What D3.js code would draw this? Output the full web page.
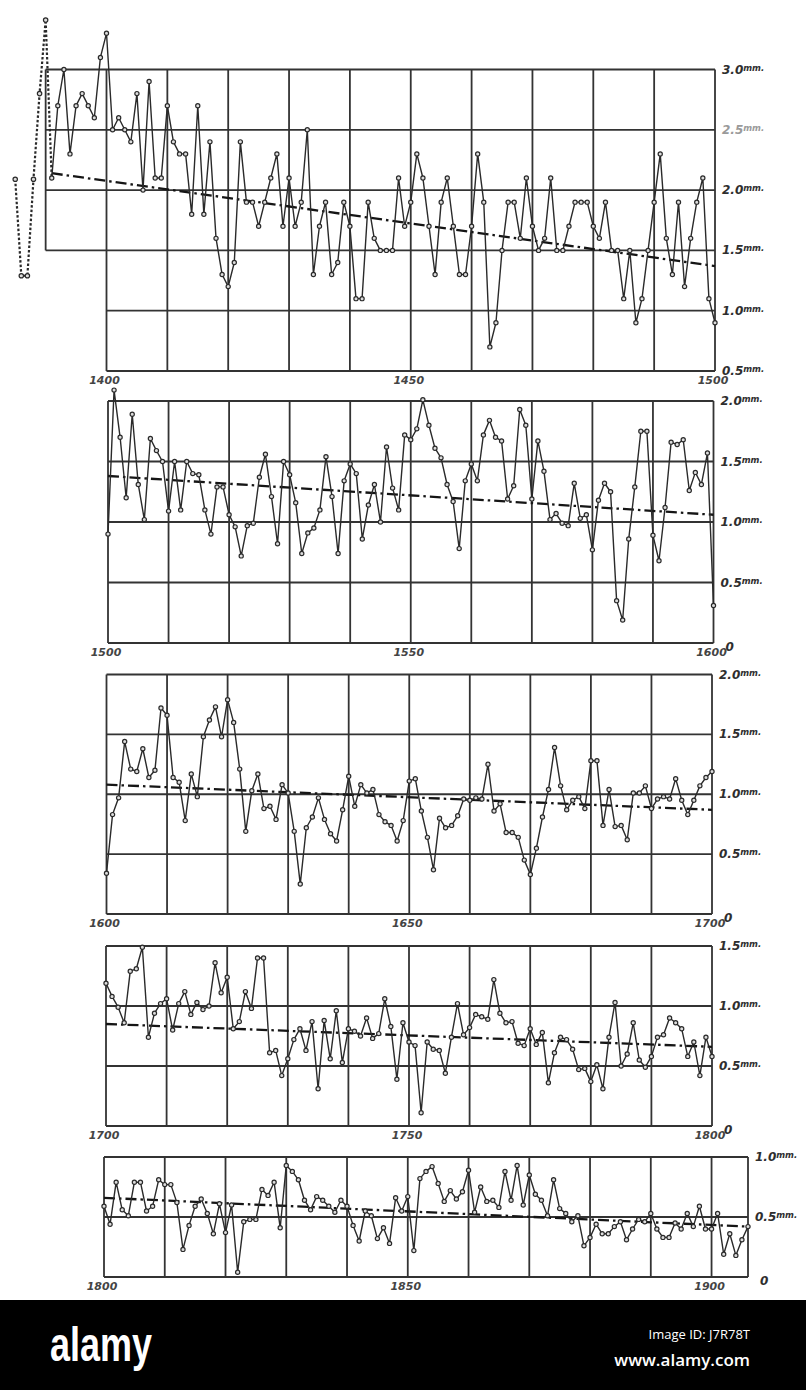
<!DOCTYPE html>
<html><head><meta charset="utf-8">
<script src="https://cdn.jsdelivr.net/npm/d3@7"></script>
<style>body{margin:0;background:#fff}svg{display:block}</style>
</head><body>
<script>
// ---------- DATA (ring widths, mm) ----------
const dottedStart = 1385;
const dotted1385_1391 = [2.09,1.29,1.29,2.09,2.80,3.41,2.10];

const start1 = 1391;
const ring1391_1500 = [2.10,2.70,3.00,2.30,2.70,2.80,2.70,2.60,3.10,3.30,
 2.50,2.60,2.50,2.40,2.80,2.00,2.90,2.10,2.10,2.70,
 2.40,2.30,2.30,1.80,2.70,1.80,2.40,1.60,1.30,1.20,
 1.40,2.40,1.90,1.90,1.70,1.90,2.10,2.30,1.70,2.10,
 1.70,1.90,2.50,1.30,1.70,1.90,1.30,1.40,1.90,1.70,
 1.10,1.10,1.90,1.60,1.50,1.50,1.50,2.10,1.70,1.90,
 2.30,2.10,1.70,1.30,1.90,2.10,1.70,1.30,1.30,1.70,
 2.30,1.90,0.70,0.90,1.50,1.90,1.90,1.60,2.10,1.70,
 1.50,1.60,2.10,1.50,1.50,1.70,1.90,1.90,1.90,1.70,
 1.60,1.90,1.50,1.50,1.10,1.50,0.90,1.10,1.50,1.90,
 2.30,1.60,1.30,1.90,1.20,1.60,1.90,2.10,1.10,0.90];

const start2 = 1500;
const ring1500_1600 = [0.90,2.09,1.70,1.20,1.89,1.31,1.02,1.69,1.59,1.50,
 1.09,1.50,1.10,1.50,1.40,1.39,1.10,0.90,1.29,1.29,
 1.06,0.96,0.72,0.97,0.99,1.37,1.56,1.21,0.82,1.50,
 1.39,1.16,0.74,0.91,0.95,1.10,1.54,1.21,0.74,1.34,
 1.48,1.40,0.86,1.14,1.31,1.00,1.62,1.28,1.10,1.72,
 1.68,1.77,2.01,1.80,1.61,1.53,1.31,1.17,0.78,1.34,
 1.48,1.34,1.72,1.84,1.70,1.67,1.19,1.30,1.93,1.80,
 1.19,1.67,1.42,1.02,1.07,0.99,0.97,1.32,1.03,1.06,
 0.77,1.18,1.32,1.25,0.35,0.19,0.86,1.29,1.75,1.75,
 0.89,0.68,1.12,1.66,1.64,1.68,1.26,1.41,1.31,1.57,0.31];

const start3 = 1600;
const ring1600_1700 = [0.34,0.83,0.97,1.44,1.21,1.19,1.38,1.14,1.20,1.72,
 1.66,1.14,1.10,0.78,1.17,0.98,1.48,1.62,1.73,1.48,
 1.79,1.60,1.21,0.69,1.03,1.17,0.88,0.90,0.79,1.08,
 1.01,0.69,0.25,0.72,0.81,0.97,0.79,0.67,0.61,0.87,
 1.15,0.90,1.08,1.01,1.04,0.83,0.77,0.74,0.61,0.78,
 1.11,1.13,0.86,0.64,0.37,0.80,0.72,0.74,0.82,0.96,
 0.95,0.97,0.96,1.25,0.86,0.92,0.68,0.68,0.64,0.45,
 0.33,0.55,0.81,1.04,1.39,1.07,0.87,0.95,0.98,0.88,
 1.28,1.28,0.74,1.04,0.73,0.74,0.62,1.01,1.01,1.07,
 0.88,0.96,0.98,0.96,1.13,0.95,0.83,0.95,1.07,1.14,1.19];

const start4 = 1700;
const ring1700_1800 = [1.19,1.08,0.99,0.86,1.29,1.31,1.49,0.74,0.94,1.02,
 1.06,0.80,1.02,1.12,0.93,1.03,0.97,1.00,1.36,1.11,
 1.24,0.81,0.87,1.12,0.98,1.40,1.40,0.61,0.63,0.42,
 0.56,0.72,0.81,0.63,0.87,0.31,0.88,0.56,0.96,0.53,
 0.81,0.79,0.75,0.90,0.73,0.77,1.06,0.83,0.39,0.86,
 0.70,0.67,0.11,0.70,0.64,0.63,0.44,0.74,1.02,0.76,
 0.82,0.93,0.91,0.89,1.22,0.94,0.86,0.87,0.69,0.67,
 0.81,0.68,0.78,0.36,0.61,0.74,0.72,0.64,0.47,0.48,
 0.37,0.51,0.31,0.74,1.03,0.50,0.60,0.86,0.55,0.49,
 0.58,0.74,0.76,0.90,0.86,0.81,0.58,0.70,0.42,0.74,0.58];

const start5 = 1800;
const ring1800_1906 = [0.59,0.44,0.79,0.56,0.51,0.79,0.79,0.55,0.59,0.81,
 0.77,0.77,0.62,0.23,0.43,0.59,0.65,0.53,0.36,0.61,
 0.37,0.60,0.04,0.46,0.48,0.48,0.73,0.68,0.79,0.41,
 0.93,0.88,0.81,0.64,0.56,0.67,0.64,0.59,0.54,0.64,
 0.59,0.43,0.30,0.55,0.51,0.32,0.41,0.28,0.66,0.55,
 0.67,0.22,0.82,0.88,0.92,0.78,0.63,0.72,0.65,0.71,
 0.89,0.54,0.75,0.63,0.64,0.58,0.88,0.64,0.93,0.60,
 0.85,0.69,0.64,0.51,0.81,0.57,0.53,0.46,0.51,0.26,
 0.33,0.44,0.36,0.36,0.42,0.46,0.31,0.40,0.48,0.46,
 0.53,0.40,0.33,0.33,0.45,0.40,0.53,0.42,0.59,0.40,
 0.40,0.53,0.19,0.36,0.18,0.31,0.42];

// trend (dash-dot) end values per panel
const trendYears = [[1391,1500],[1500,1600],[1600,1700],[1700,1800],[1800,1906]];
const trendValues = [[2.14,1.37],[1.38,1.06],[1.08,0.87],[0.85,0.66],[0.66,0.42]];

// tick labels
const yearTicks = [[1400,1450,1500],[1500,1550,1600],[1600,1650,1700],[1700,1750,1800],[1800,1850,1900]];
const mmTicks = [[3.0,2.5,2.0,1.5,1.0,0.5],[2.0,1.5,1.0,0.5,0],[2.0,1.5,1.0,0.5,0],[1.5,1.0,0.5,0],[1.0,0.5,0]];
const mmLabels = [["3.0","2.5","2.0","1.5","1.0","0.5"],["2.0","1.5","1.0","0.5","0"],["2.0","1.5","1.0","0.5","0"],["1.5","1.0","0.5","0"],["1.0","0.5","0"]];

const seriesStarts = [start1,start2,start3,start4,start5];
const seriesValues = [ring1391_1500,ring1500_1600,ring1600_1700,ring1700_1800,ring1800_1906];

// ---------- LAYOUT ----------
const W=806,H=1390;
const layout=[
 {x0:106.5,x1:715,yTop:69.5,yBot:371,xd:[1400,1500],yd:[0.5,3.0]},
 {x0:108,x1:713.5,yTop:401,yBot:643,xd:[1500,1600],yd:[0,2.0]},
 {x0:106.5,x1:712,yTop:674.5,yBot:914,xd:[1600,1700],yd:[0,2.0]},
 {x0:106,x1:712,yTop:946,yBot:1126,xd:[1700,1800],yd:[0,1.5]},
 {x0:104,x1:748,yTop:1157,yBot:1277,xd:[1800,1906],yd:[0,1.0]}
];
const INK="#2a2a2a";
const svg=d3.select("body").append("svg").attr("width",W).attr("height",H)
  .attr("font-family","'DejaVu Sans', sans-serif");
svg.append("rect").attr("width",W).attr("height",H).attr("fill","#fff");

layout.forEach((L,i)=>{
  const xs=d3.scaleLinear().domain(L.xd).range([L.x0,L.x1]);
  const ys=d3.scaleLinear().domain(L.yd).range([L.yBot,L.yTop]);
  const g=svg.append("g");
  const grid=g.append("g").attr("stroke","#333").attr("stroke-width",1.8).attr("fill","none");
  const vx=d3.range(L.xd[0],L.xd[1]+1,10);
  if(vx[vx.length-1]!==L.xd[1]) vx.push(L.xd[1]);
  grid.selectAll(".v").data(vx).join("line")
    .attr("x1",d=>xs(d)).attr("x2",d=>xs(d)).attr("y1",ys(L.yd[1])).attr("y2",ys(L.yd[0]));
  grid.selectAll(".h").data(mmTicks[i]).join("line")
    .attr("x1",d=> (i===0 && d>=1.5) ? xs(1390) : xs(L.xd[0]))
    .attr("x2",xs(L.xd[1])).attr("y1",d=>ys(d)).attr("y2",d=>ys(d));
  if(i===0){
    grid.append("line").attr("x1",xs(1390)).attr("x2",xs(1390)).attr("y1",ys(3.0)).attr("y2",ys(1.5));
  }
  const tl=d3.line().x(d=>xs(d[0])).y(d=>ys(d[1]));
  g.append("path").datum([[trendYears[i][0],trendValues[i][0]],[trendYears[i][1],trendValues[i][1]]])
    .attr("d",tl).attr("fill","none").attr("stroke","#151515").attr("stroke-width",2.3)
    .attr("stroke-dasharray","11,4,2.5,4");
  if(i===0){
    const dd=dotted1385_1391.map((v,k)=>({year:dottedStart+k,v}));
    const ln=d3.line().x(d=>xs(d.year)).y(d=>ys(d.v));
    g.append("path").datum(dd).attr("d",ln).attr("fill","none").attr("stroke",INK)
      .attr("stroke-width",2.2).attr("stroke-dasharray","2.5,2");
    g.selectAll(".dp").data(dd.slice(0,-1)).join("circle")
      .attr("cx",d=>xs(d.year)).attr("cy",d=>ys(d.v)).attr("r",2.2)
      .attr("fill","#ddd").attr("stroke",INK).attr("stroke-width",1.2);
  }
  const data=seriesValues[i].map((v,k)=>({year:seriesStarts[i]+k,v}));
  const line=d3.line().x(d=>xs(d.year)).y(d=>ys(d.v));
  g.append("path").datum(data).attr("d",line).attr("fill","none").attr("stroke",INK)
    .attr("stroke-width",1.4).attr("stroke-linejoin","round");
  g.selectAll(".pt").data(data).join("circle")
    .attr("cx",d=>xs(d.year)).attr("cy",d=>ys(d.v)).attr("r",2.1)
    .attr("fill","#ddd").attr("stroke",INK).attr("stroke-width",1.2);
  const lab=g.append("g").attr("font-weight","bold").attr("font-style","italic");
  mmTicks[i].forEach((t,k)=>{
    const txt=lab.append("text").attr("x",xs(L.xd[1])+(mmLabels[i][k]==="0"?12:7))
      .attr("y",ys(t)+4+(mmLabels[i][k]==="0"?4:0)).attr("font-size",12)
      .attr("fill",(i===0&&t===2.5)?"#9a9a9a":"#2e2e2e");
    txt.append("tspan").text(mmLabels[i][k]);
    if(mmLabels[i][k]!=="0"){
      txt.append("tspan").attr("font-size",8.5).attr("dy",-3).text("mm.");
    }
  });
  g.append("g").attr("font-style","italic").attr("font-weight","bold").attr("font-size",11).attr("fill","#444")
    .attr("text-anchor","middle")
    .selectAll("text").data(yearTicks[i]).join("text")
    .attr("x",d=>xs(d)-2).attr("y",L.yBot+13).text(d=>d);
});

// ---------- stock banner ----------
svg.append("rect").attr("x",0).attr("y",1300).attr("width",W).attr("height",90).attr("fill","#000");
svg.append("text").attr("x",50).attr("y",1361).attr("fill","#fff")
  .attr("font-family","'Liberation Sans Narrow','Liberation Sans',sans-serif").attr("font-weight","bold")
  .attr("font-size",48).attr("textLength",102).attr("lengthAdjust","spacingAndGlyphs").text("alamy");
svg.append("text").attr("x",750).attr("y",1339).attr("fill","#fff").attr("text-anchor","end")
  .attr("font-family","'Open Sans',sans-serif").attr("font-size",13).text("Image ID: J7R78T");
svg.append("text").attr("x",750).attr("y",1366).attr("fill","#fff").attr("text-anchor","end")
  .attr("font-family","'Open Sans',sans-serif").attr("font-weight","600").attr("font-size",17).text("www.alamy.com");
</script>
</body></html>
